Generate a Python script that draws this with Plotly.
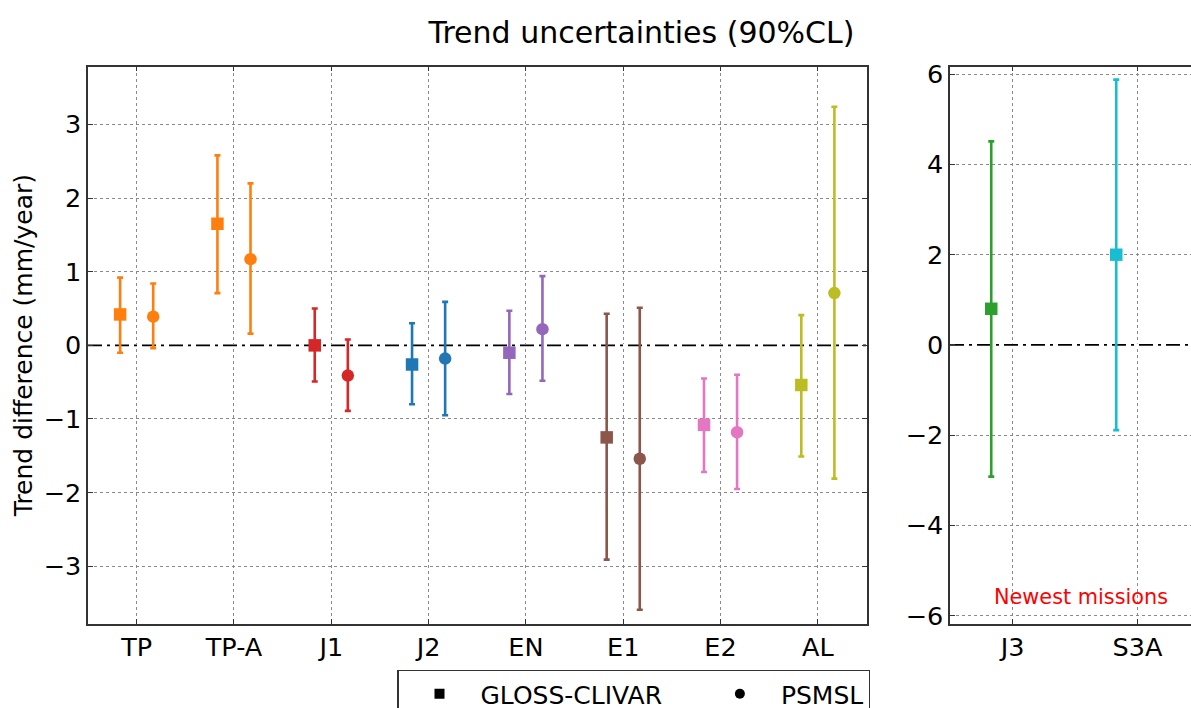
import plotly.graph_objects as go

# ---------------- data ----------------
missions_main = ["TP", "TP-A", "J1", "J2", "EN", "E1", "E2", "AL"]
colors_main = ["#ff7f0e", "#ff7f0e", "#d62728", "#1f77b4", "#9467bd", "#8c564b", "#e377c2", "#bcbd22"]

gloss_val = [0.42, 1.65, 0.00, -0.26, -0.10, -1.25, -1.08, -0.54]
gloss_hi = [0.92, 2.58, 0.50, 0.30, 0.47, 0.43, -0.45, 0.41]
gloss_lo = [-0.10, 0.71, -0.49, -0.80, -0.66, -2.91, -1.72, -1.51]

psmsl_val = [0.39, 1.17, -0.41, -0.18, 0.22, -1.54, -1.18, 0.71]
psmsl_hi = [0.84, 2.20, 0.08, 0.59, 0.94, 0.51, -0.40, 3.24]
psmsl_lo = [-0.04, 0.16, -0.89, -0.95, -0.48, -3.59, -1.95, -1.81]

missions_new = ["J3", "S3A"]
colors_new = ["#2ca02c", "#17becf"]
new_val = [0.80, 2.00]
new_hi = [4.51, 5.88]
new_lo = [-2.92, -1.89]

legend_names = ["GLOSS-CLIVAR", "PSMSL"]

offset = 0.17
FONT = "DejaVu Sans"
W, H = 1191, 708

x1_range = [-0.5, len(missions_main) - 0.5]
y1_range = [-3.78, 3.787]
x2_range = [-0.5, 1.428]
y2_range = [-6.18, 6.17]

fig = go.Figure()

# dashed-dotted zero reference lines spanning each panel (drawn first, beneath markers)
dash = "14px,5px,3px,5px"
for xr, xa, ya in [(x1_range, "x", "y"), (x2_range, "x2", "y2")]:
    fig.add_trace(go.Scatter(x=xr, y=[0, 0], mode="lines", xaxis=xa, yaxis=ya,
                             showlegend=False, hoverinfo="skip", cliponaxis=False,
                             line=dict(color="white", width=2.5)))
    fig.add_trace(go.Scatter(x=xr, y=[0, 0], mode="lines", xaxis=xa, yaxis=ya,
                             showlegend=False, hoverinfo="skip",
                             line=dict(color="black", width=1.6, dash=dash)))

def add_point(x, v, hi, lo, color, symbol, xa, ya):
    fig.add_trace(go.Scatter(
        x=[x], y=[v], mode="markers", xaxis=xa, yaxis=ya, showlegend=False,
        marker=dict(symbol=symbol, size=12.5, color=color, line=dict(width=0)),
        error_y=dict(type="data", symmetric=False, array=[hi - v], arrayminus=[v - lo],
                     color=color, thickness=2.6, width=3),
    ))

for i, m in enumerate(missions_main):
    add_point(i - offset, gloss_val[i], gloss_hi[i], gloss_lo[i], colors_main[i], "square", "x", "y")
    add_point(i + offset, psmsl_val[i], psmsl_hi[i], psmsl_lo[i], colors_main[i], "circle", "x", "y")

for i, m in enumerate(missions_new):
    add_point(i - offset, new_val[i], new_hi[i], new_lo[i], colors_new[i], "square", "x2", "y2")

# legend entries (trailing no-break spaces only widen the first entry)
fig.add_trace(go.Scatter(x=[None], y=[None], mode="markers",
                         name=legend_names[0] + "\u00a0" * 4,
                         marker=dict(symbol="square", size=10, color="black")))
fig.add_trace(go.Scatter(x=[None], y=[None], mode="markers", name=legend_names[1],
                         marker=dict(symbol="circle", size=10, color="black")))

def px_x(p):
    return p / W

def px_y(p):
    return 1 - p / H

dom_y = [px_y(623.7), px_y(66.5)]
axis_common = dict(
    showline=True, linecolor="#333333", linewidth=1.5,
    ticks="inside", ticklen=5, tickwidth=1, tickcolor="#333333",
    showgrid=True, gridcolor="#8a8a8a", griddash="dot", gridwidth=1,
    zeroline=False, automargin=False,
    tickfont=dict(family=FONT, size=25.5, color="black"),
)

fig.update_layout(
    width=W, height=H,
    margin=dict(l=0, r=0, t=0, b=0, autoexpand=False),
    paper_bgcolor="white", plot_bgcolor="white",
    font=dict(family=FONT, color="black"),
    title=dict(text="Trend uncertainties (90%CL)", x=641.5 / W, xanchor="center",
               y=px_y(32), yanchor="middle", font=dict(family=FONT, size=30, color="black")),
    xaxis=dict(domain=[px_x(88), px_x(866.5)], range=x1_range,
               tickvals=list(range(len(missions_main))), ticktext=missions_main,
               mirror="ticks", anchor="y", **axis_common),
    yaxis=dict(domain=dom_y, range=y1_range, tickvals=[-3, -2, -1, 0, 1, 2, 3],
               mirror="ticks", anchor="x",
               title=dict(text="Trend difference (mm/year)", standoff=4,
                          font=dict(family=FONT, size=25, color="black")),
               **axis_common),
    xaxis2=dict(domain=[px_x(950), 1.0], range=x2_range,
                tickvals=list(range(len(missions_new))), ticktext=missions_new,
                mirror="ticks", anchor="y2", **axis_common),
    yaxis2=dict(domain=dom_y, range=y2_range, tickvals=[-6, -4, -2, 0, 2, 4, 6],
                mirror=False, anchor="x2", **axis_common),
    legend=dict(orientation="h", x=px_x(397), xanchor="left", y=px_y(669.5), yanchor="top",
                bordercolor="#333333", borderwidth=1.5, bgcolor="white",
                font=dict(family=FONT, size=25, color="black"),
                itemwidth=72, tracegroupgap=0),
    showlegend=True,
)

fig.add_annotation(text="Newest missions", xref="x2", yref="y2", x=0.548, y=-5.58,
                   showarrow=False, font=dict(family=FONT, size=20.8, color="red"),
                   xanchor="center", yanchor="middle")

fig.write_html("out.html")
